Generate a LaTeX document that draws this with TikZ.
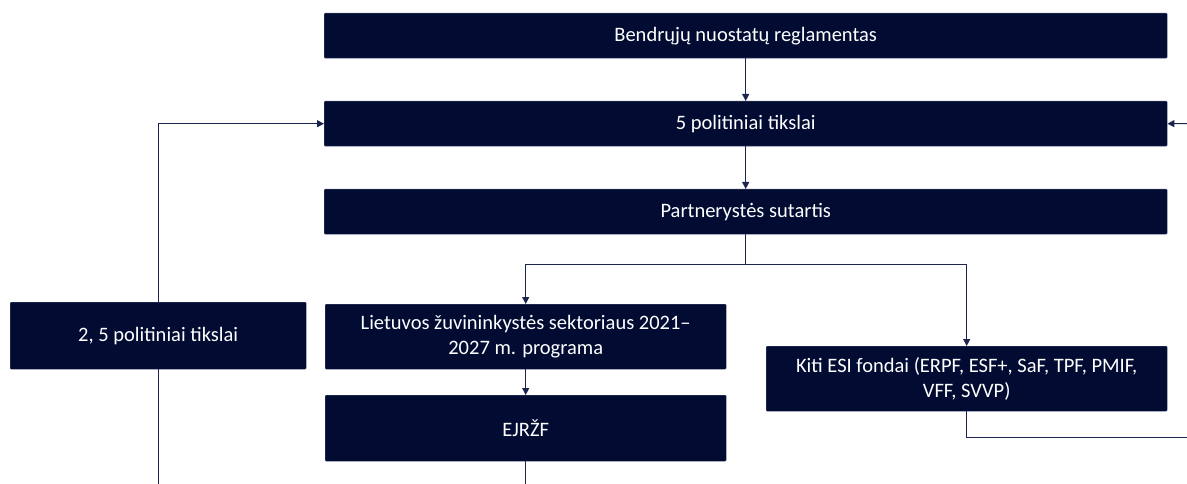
\documentclass[tikz,border=0pt]{standalone}
\usepackage{fontspec}
\setmainfont{Carlito}
\usetikzlibrary{arrows.meta}
\definecolor{navy}{HTML}{020C33}
\definecolor{edgecol}{HTML}{4A5272}
\definecolor{linecol}{HTML}{1B2550}

\begin{document}
\begin{tikzpicture}[x=1pt,y=-1pt,
  box/.style={draw=edgecol, fill=navy, text=white, rounded corners=1pt,
    inner sep=0pt, anchor=north west, align=center,
    font=\fontsize{20.5}{25}\selectfont},
  wide/.style={box, minimum width=843pt, minimum height=45pt},
  half/.style={box, minimum width=401pt, minimum height=65pt},
  link/.style={draw=linecol, line width=1pt},
  arr/.style={link, -{Triangle[length=7pt,width=7pt]}}]
\useasboundingbox (0,0) rectangle (1187,484);

\node[wide] (reg) at (324,13) {Bendrųjų nuostatų reglamentas};
\node[wide] (tiks) at (324,101) {5 politiniai tikslai};
\node[wide] (sut) at (324,189) {Partnerystės sutartis};
\node[half] (prog) at (325,304) {Lietuvos žuvininkystės sektoriaus 2021--\\2027 m. programa};
\node[half] (kiti) at (766,346) {Kiti ESI fondai (ERPF, ESF+, SaF, TPF, PMIF,\\VFF, SVVP)};
\node[half, minimum height=66pt] (ejr) at (325,395) {EJRŽF};
\node[box, minimum width=296pt, minimum height=67pt] (pt25) at (10,302) {2, 5 politiniai tikslai};

% free ends at the picture's edge
\coordinate (bot) at (0,484);
\coordinate (rtop) at (1187,123.5);
\coordinate (rbot) at (1187,437);

\draw[arr] (reg) -- (tiks);
\draw[arr] (tiks) -- (sut);
\draw[arr] (sut.south) -- ++(0,30) -| (prog.north);
\draw[arr] (sut.south) -- ++(0,30) -| (kiti.north);
\draw[arr] (prog) -- (ejr);
\draw[link] (ejr.south) -- (ejr.south |- bot);
\draw[link] (kiti.south) |- (rbot);
\draw[arr] (rtop) -- (tiks.east);
\draw[arr] (pt25.north) |- (tiks.west);
\draw[link] (pt25.south) -- (pt25.south |- bot);

\end{tikzpicture}
\end{document}
